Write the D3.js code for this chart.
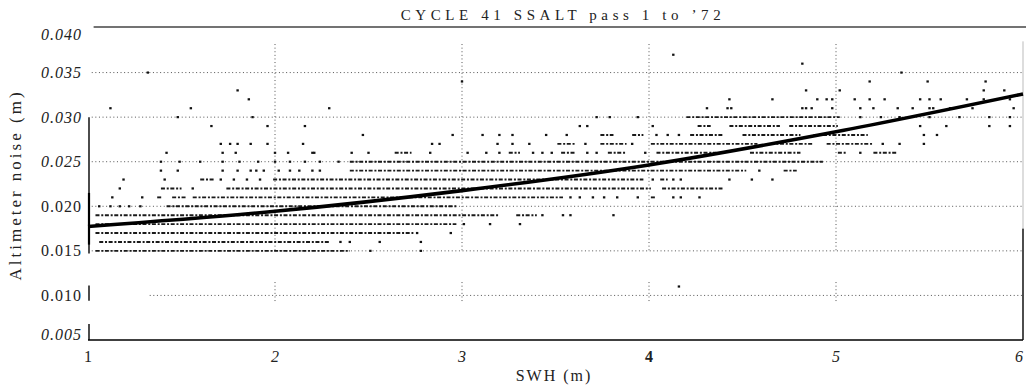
<!DOCTYPE html>
<html><head><meta charset="utf-8">
<script src="https://cdn.jsdelivr.net/npm/d3@7"></script>
<style>
html,body{margin:0;padding:0;background:#fff;}
svg{display:block;}
</style></head>
<body>
<script>
// ---------------- DATA ----------------
const title = "CYCLE 41 SSALT pass 1 to \u201972";
const xLabel = "SWH (m)";
const yLabel = "Altimeter noise (m)";
const xTicks = [1, 2, 3, 4, 5, 6];
const yTicks = [0.005, 0.010, 0.015, 0.020, 0.025, 0.030, 0.035, 0.040];
const yGridValues = [0.010, 0.015, 0.020, 0.025, 0.030, 0.035];
const xGridValues = [2, 3, 4, 5];

// dense runs of points along a quantised noise level: [noise, swhStart, swhEnd]
const denseRuns = [
  [0.015, 1.04, 2.40],
  [0.016, 1.06, 2.29],
  [0.017, 1.04, 2.74],
  [0.018, 1.04, 2.97],
  [0.019, 1.04, 3.20], [0.019, 3.29, 3.40],
  [0.020, 1.42, 2.97],
  [0.021, 1.37, 1.40], [0.021, 1.45, 1.53], [0.021, 1.56, 3.54], [0.021, 4.01, 4.04],
  [0.022, 1.39, 1.50], [0.022, 1.74, 4.01], [0.022, 4.07, 4.40],
  [0.023, 1.60, 1.68], [0.023, 1.99, 3.97], [0.023, 4.06, 4.10],
  [0.024, 2.40, 4.52], [0.024, 4.72, 4.79],
  [0.025, 2.40, 4.93],
  [0.026, 2.64, 2.73], [0.026, 3.25, 3.31], [0.026, 3.53, 3.61], [0.026, 3.78, 3.88],
  [0.026, 4.04, 4.36], [0.026, 4.54, 4.81], [0.026, 5.01, 5.06], [0.026, 5.20, 5.33],
  [0.027, 3.51, 3.61], [0.027, 3.74, 3.88], [0.027, 4.01, 4.58], [0.027, 4.65, 4.88], [0.027, 4.95, 5.20],
  [0.028, 3.74, 3.81], [0.028, 3.91, 3.97], [0.028, 4.22, 4.40], [0.028, 4.50, 4.81], [0.028, 4.88, 5.17],
  [0.029, 4.26, 4.33], [0.029, 4.43, 4.70], [0.029, 4.75, 5.01],
  [0.030, 4.20, 5.02]
];

// isolated points per noise level: [noise, [swh values]]
const isolatedPoints = [
  [0.011, [4.16]],
  [0.015, [2.51, 2.78]],
  [0.016, [2.35, 2.40, 2.56, 2.78]],
  [0.017, [2.76, 2.94]],
  [0.018, [3.01, 3.15, 3.31]],
  [0.019, [3.43, 3.54, 3.58, 3.81]],
  [0.020, [1.06, 1.12, 1.17, 1.22, 1.28]],
  [0.021, [1.13, 1.29, 3.58, 3.63, 3.70, 3.76, 3.83, 3.94, 4.13, 4.17, 4.27]],
  [0.022, [1.17, 1.56]],
  [0.023, [1.19, 1.41, 1.71, 1.78, 1.85, 1.92, 4.02, 4.13, 4.17, 4.43, 4.55, 4.66]],
  [0.024, [1.39, 1.48, 1.72, 1.80, 1.87, 1.90, 1.94, 2.02, 2.08, 2.13, 2.20, 2.24, 4.59]],
  [0.025, [1.39, 1.49, 1.60, 1.72, 1.81, 1.91, 2.00, 2.08, 2.16, 2.24, 2.34]],
  [0.026, [1.42, 1.72, 1.79, 2.00, 2.07, 2.20, 2.21, 2.41, 2.50, 2.83, 3.03, 3.13, 3.20, 3.38, 3.43, 3.48, 3.67, 3.72, 3.98, 5.13]],
  [0.027, [1.71, 1.76, 1.80, 1.87, 1.96, 2.15, 2.84, 2.88, 3.19, 3.27, 3.36, 3.66, 3.91, 5.25, 5.34, 5.47]],
  [0.028, [2.47, 2.95, 3.11, 3.20, 3.27, 3.45, 3.56, 4.04, 4.10, 4.16, 5.47, 5.54]],
  [0.029, [1.66, 1.96, 2.16, 3.63, 3.67, 4.02, 5.45, 5.59, 5.82, 5.93]],
  [0.030, [1.48, 1.88, 3.72, 3.79, 3.94, 5.13, 5.24, 5.34, 5.50, 5.66, 5.82, 5.93]],
  [0.031, [1.12, 1.55, 2.29, 4.31, 4.42, 4.44, 4.82, 4.84, 4.87, 4.98, 5.13, 5.20, 5.33, 5.41, 5.50, 5.52, 5.61, 5.73, 5.95]],
  [0.032, [1.86, 4.43, 4.66, 4.90, 4.95, 4.98, 5.10, 5.18, 5.26, 5.45, 5.50, 5.56, 5.70, 5.79, 5.93]],
  [0.033, [1.80, 4.84, 5.02, 5.79, 5.90]],
  [0.034, [3.00, 5.18, 5.49, 5.80]],
  [0.035, [1.32, 5.35]],
  [0.036, [4.82]],
  [0.037, [4.13]]
];

// fitted curve
const fitSWH = [1, 2, 3, 4, 5, 6];
const fitNoise = [0.01773, 0.01944, 0.02176, 0.02464, 0.02836, 0.0326];

// ---------------- DRAW ----------------
const W = 1026, H = 387;
const FONT = "Liberation Serif";
const margin = {top: 28, right: 3, bottom: 47, left: 88};
const svg = d3.select("body").append("svg").attr("width", W).attr("height", H);

const x = d3.scaleLinear().domain([1, 6]).range([margin.left, W - margin.right]);
const y = d3.scaleLinear().domain([0.005, 0.040]).range([H - margin.bottom, margin.top]);

// gridlines
const grid = svg.append("g").attr("stroke", "#555").attr("stroke-width", 1).attr("stroke-dasharray", "1,2.6");
grid.selectAll("line.h").data(yGridValues).join("line")
  .attr("x1", d => d === 0.010 ? x(1.33) : x(1.02)).attr("x2", x(6))
  .attr("y1", d => y(d)).attr("y2", d => y(d));
grid.selectAll("line.v").data(xGridValues).join("line")
  .attr("x1", d => x(d)).attr("x2", d => x(d))
  .attr("y1", y(0.0382)).attr("y2", y(0.015));
grid.selectAll("line.v2").data(xGridValues).join("line")
  .attr("x1", d => x(d)).attr("x2", d => x(d))
  .attr("y1", y(0.0115)).attr("y2", y(0.0091));

// frame
svg.append("line").attr("x1", x(1.03)).attr("x2", W).attr("y1", y(0.040) - 1).attr("y2", y(0.040) - 1)
  .attr("stroke", "#444").attr("stroke-width", 1.6);
svg.append("line").attr("x1", x(1)).attr("x2", x(6)).attr("y1", y(0.005)).attr("y2", y(0.005))
  .attr("stroke", "#000").attr("stroke-width", 1.6);
const leftSegs = [[0.030, 0.0147], [0.0111, 0.0094], [0.0068, 0.005]];
svg.selectAll("line.ls").data(leftSegs).join("line")
  .attr("x1", x(1) + 1).attr("x2", x(1) + 1)
  .attr("y1", d => y(d[0])).attr("y2", d => y(d[1]))
  .attr("stroke", "#000").attr("stroke-width", 1.4);
svg.append("line").attr("x1", x(1) + 1).attr("x2", x(1) + 1).attr("y1", y(0.0215)).attr("y2", y(0.0157))
  .attr("stroke", "#000").attr("stroke-width", 2.2);
svg.append("line").attr("x1", x(6)).attr("x2", x(6)).attr("y1", y(0.0175)).attr("y2", y(0.005))
  .attr("stroke", "#000").attr("stroke-width", 1.4);
svg.append("line").attr("x1", x(6)).attr("x2", x(6)).attr("y1", y(0.0385)).attr("y2", y(0.0175))
  .attr("stroke", "#bbb").attr("stroke-width", 1);

// dense runs
svg.append("g").selectAll("line").data(denseRuns).join("line")
  .attr("x1", d => x(d[1])).attr("x2", d => x(d[2]))
  .attr("y1", d => y(d[0])).attr("y2", d => y(d[0]))
  .attr("stroke", "#1a1a1a").attr("stroke-width", 1.9)
  .attr("stroke-dasharray", "4,1.8,2,1.6");

// isolated points
const pts = isolatedPoints.flatMap(([n, xs]) => xs.map(s => ({s, n})));
svg.append("g").selectAll("rect").data(pts).join("rect")
  .attr("x", d => x(d.s) - 1.2).attr("y", d => y(d.n) - 1.1)
  .attr("width", 2.4).attr("height", 2.2).attr("fill", "#111");

// fitted curve
const fit = fitSWH.map((s, i) => [s, fitNoise[i]]);
svg.append("path").datum(fit)
  .attr("d", d3.line().x(d => x(d[0])).y(d => y(d[1])).curve(d3.curveMonotoneX))
  .attr("fill", "none").attr("stroke", "#000").attr("stroke-width", 3.6);

// y tick labels
const uprightY = new Set([0.010, 0.015, 0.020]);
svg.append("g").selectAll("text").data(yTicks).join("text")
  .attr("x", 82).attr("y", d => Math.min(Math.max(y(d), 34), 334))
  .attr("dy", "0.35em").attr("text-anchor", "end").attr("fill", "#222")
  .attr("font-family", FONT).attr("font-size", 16).attr("letter-spacing", 1)
  .attr("font-style", d => uprightY.has(d) ? "normal" : "italic")
  .text(d => d3.format(".3f")(d));

// x tick labels
svg.append("g").selectAll("text").data(xTicks).join("text")
  .attr("x", d => x(d) - (d === 6 ? 4 : 0)).attr("y", 362)
  .attr("text-anchor", "middle").attr("font-family", FONT).attr("font-size", 16).attr("fill", "#222")
  .attr("font-style", d => (d === 1 || d === 4) ? "normal" : "italic")
  .attr("font-weight", d => d === 4 ? "bold" : "normal")
  .text(d => d);

// titles
svg.append("text").attr("x", 563).attr("y", 20).attr("text-anchor", "middle").attr("fill", "#222")
  .attr("font-family", FONT).attr("font-size", 15).attr("letter-spacing", 4.6).text(title);
svg.append("text").attr("x", 554).attr("y", 381).attr("text-anchor", "middle").attr("fill", "#222")
  .attr("font-family", FONT).attr("font-size", 16).attr("letter-spacing", 2).text(xLabel);
svg.append("text").attr("transform", "translate(21,185) rotate(-90)").attr("text-anchor", "middle")
  .attr("fill", "#222").attr("font-family", FONT).attr("font-size", 17).attr("letter-spacing", 3).text(yLabel);
</script>
</body></html>
